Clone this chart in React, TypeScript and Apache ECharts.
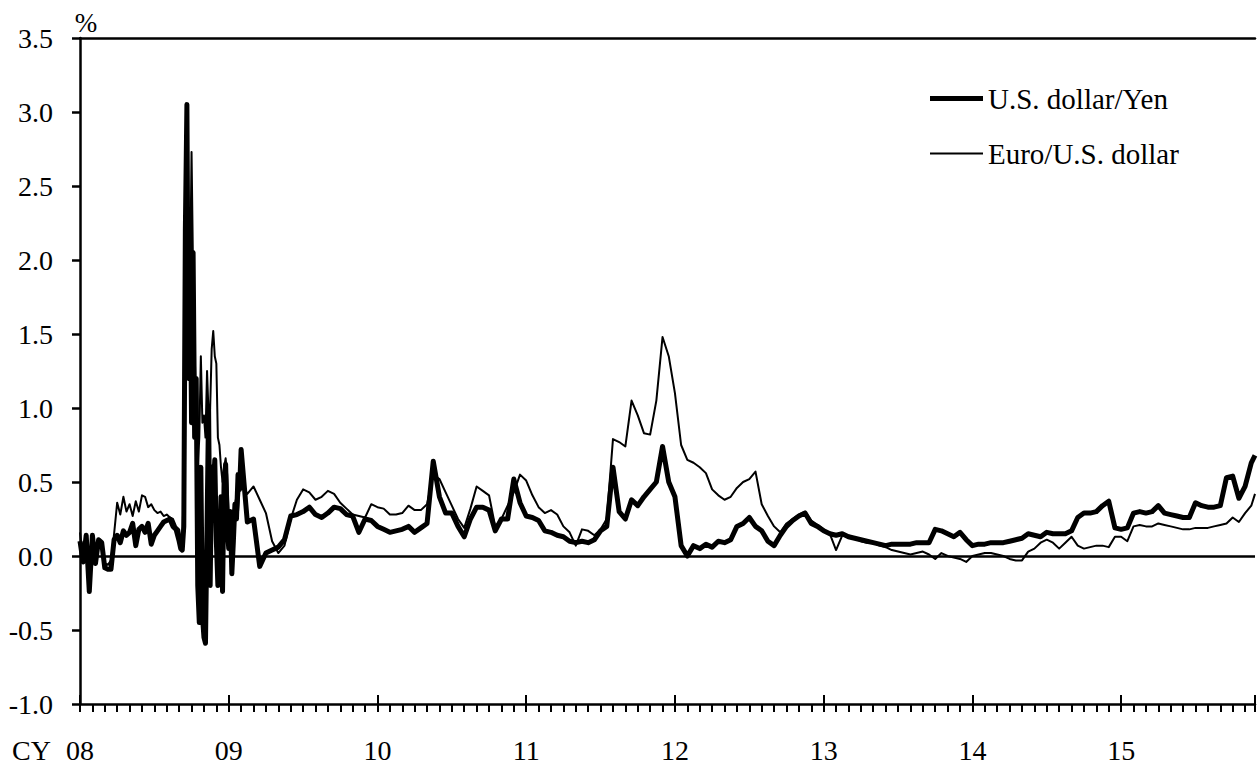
import React, { useEffect, useRef } from 'react';
import * as echarts from 'echarts';

const FONT = '"Liberation Serif", "Times New Roman", Times, serif';

const seriesNames = ['U.S. dollar/Yen', 'Euro/U.S. dollar'];
const yearLabels = ['08', '09', '10', '11', '12', '13', '14', '15'];

// x positions in months since Jan 2008
function range(start: number, end: number, step: number): number[] {
  const out: number[] = [];
  for (let i = 0; start + i * step <= end + 1e-9; i++) out.push(+(start + i * step).toFixed(3));
  return out;
}
const months: number[] = [
  ...range(0, 8, 0.25),
  ...range(8.125, 13, 0.125),
  ...range(13.5, 94.5, 0.5),
  94.8,
];

// U.S. dollar/Yen (thick)
const usdJpy2008a = [0.1, -0.04, 0.14, -0.24, 0.14, -0.05, 0.11, 0.09, -0.08, -0.09, -0.09, 0.11, 0.14, 0.09, 0.17, 0.14, 0.16, 0.22, 0.07, 0.18, 0.2, 0.16, 0.22, 0.08, 0.14, 0.17, 0.2, 0.23, 0.24, 0.25, 0.2, 0.18, 0.1];
const usdJpyCrisis = [0.05, 0.04, 0.2, 2.2, 3.05, 1.2, 2.2, 0.9, 2.05, 0.8, 1.2, -0.2, -0.45, 0.6, -0.4, -0.55, -0.59, 0.2, 1.0, -0.2, 0.6, 0.45, 0.65, 0.1, -0.2, -0.15, 0.4, -0.24, 0.5, 0.62, 0.2, 0.05, 0.3, -0.12, 0.1, 0.35, 0.25, 0.55, 0.45, 0.72];
const usdJpy2009 = [0.23, 0.25, -0.07, 0.02, 0.04, 0.06, 0.11, 0.27, 0.28, 0.3, 0.33, 0.28, 0.26, 0.29, 0.33, 0.32, 0.28, 0.27, 0.16, 0.25, 0.24, 0.2];
const usdJpy2010 = [0.18, 0.16, 0.17, 0.18, 0.2, 0.16, 0.19, 0.22, 0.64, 0.4, 0.29, 0.29, 0.2, 0.13, 0.25, 0.33, 0.33, 0.31, 0.17, 0.25, 0.25, 0.52, 0.36, 0.27];
const usdJpy2011 = [0.26, 0.24, 0.17, 0.16, 0.14, 0.13, 0.1, 0.09, 0.1, 0.09, 0.11, 0.17, 0.2, 0.6, 0.3, 0.25, 0.38, 0.34, 0.4, 0.45, 0.5, 0.74, 0.5, 0.4];
const usdJpy2012 = [0.07, 0.0, 0.07, 0.05, 0.08, 0.06, 0.1, 0.09, 0.11, 0.2, 0.22, 0.26, 0.2, 0.17, 0.1, 0.07, 0.14, 0.2, 0.24, 0.27, 0.29, 0.22, 0.2, 0.17];
const usdJpy2013 = [0.15, 0.14, 0.15, 0.13, 0.12, 0.11, 0.1, 0.09, 0.08, 0.07, 0.08, 0.08, 0.08, 0.08, 0.09, 0.09, 0.09, 0.18, 0.17, 0.15, 0.13, 0.16, 0.11, 0.07];
const usdJpy2014 = [0.08, 0.08, 0.09, 0.09, 0.09, 0.1, 0.11, 0.12, 0.15, 0.14, 0.13, 0.16, 0.15, 0.15, 0.15, 0.17, 0.26, 0.29, 0.29, 0.3, 0.34, 0.37, 0.19, 0.18];
const usdJpy2015 = [0.19, 0.29, 0.3, 0.29, 0.3, 0.34, 0.29, 0.28, 0.27, 0.26, 0.26, 0.36, 0.34, 0.33, 0.33, 0.34, 0.53, 0.54, 0.39, 0.47, 0.63, 0.68];

// Euro/U.S. dollar (thin)
const eurUsd2008a = [0.16, -0.02, 0.1, -0.05, 0.12, 0.05, 0.1, 0.06, -0.05, -0.06, -0.03, 0.15, 0.36, 0.28, 0.4, 0.3, 0.35, 0.27, 0.37, 0.3, 0.41, 0.4, 0.33, 0.35, 0.31, 0.29, 0.3, 0.27, 0.28, 0.26, 0.25, 0.2, 0.18];
const eurUsdCrisis = [0.12, 0.08, 0.5, 1.6, 2.0, 1.2, 1.8, 2.73, 1.9, 1.4, 0.9, 0.6, 0.8, 1.35, 0.9, 0.95, 0.8, 1.25, 0.95, 1.0, 1.4, 1.52, 1.35, 1.3, 0.8, 0.75, 0.6, 0.5, 0.6, 0.66, 0.55, 0.3, 0.05, -0.1, 0.3, 0.35, 0.4, 0.3, 0.45, 0.5];
const eurUsd2009 = [0.42, 0.47, 0.38, 0.29, 0.1, 0.02, 0.07, 0.25, 0.38, 0.45, 0.43, 0.38, 0.4, 0.44, 0.42, 0.36, 0.32, 0.28, 0.27, 0.26, 0.35, 0.33];
const eurUsd2010 = [0.32, 0.28, 0.28, 0.29, 0.34, 0.31, 0.31, 0.35, 0.55, 0.52, 0.43, 0.34, 0.25, 0.19, 0.32, 0.47, 0.44, 0.41, 0.2, 0.25, 0.34, 0.43, 0.55, 0.51];
const eurUsd2011 = [0.41, 0.33, 0.29, 0.31, 0.28, 0.2, 0.16, 0.07, 0.18, 0.17, 0.14, 0.18, 0.25, 0.79, 0.77, 0.74, 1.05, 0.95, 0.83, 0.82, 1.05, 1.48, 1.35, 1.1];
const eurUsd2012 = [0.75, 0.65, 0.63, 0.6, 0.56, 0.45, 0.41, 0.38, 0.4, 0.46, 0.5, 0.52, 0.57, 0.35, 0.27, 0.2, 0.16, 0.22, 0.25, 0.28, 0.3, 0.24, 0.21, 0.18];
const eurUsd2013 = [0.15, 0.04, 0.14, 0.13, 0.12, 0.1, 0.09, 0.09, 0.07, 0.06, 0.04, 0.03, 0.02, 0.01, 0.02, 0.03, 0.01, -0.02, 0.02, 0.0, -0.01, -0.02, -0.04, 0.0];
const eurUsd2014 = [0.01, 0.02, 0.02, 0.01, 0.0, -0.02, -0.03, -0.03, 0.03, 0.05, 0.09, 0.11, 0.09, 0.05, 0.09, 0.13, 0.07, 0.05, 0.06, 0.07, 0.07, 0.06, 0.13, 0.13];
const eurUsd2015 = [0.1, 0.2, 0.21, 0.2, 0.2, 0.22, 0.21, 0.2, 0.19, 0.18, 0.18, 0.19, 0.19, 0.19, 0.2, 0.21, 0.22, 0.26, 0.23, 0.29, 0.34, 0.42];

const usdJpy = [...usdJpy2008a, ...usdJpyCrisis, ...usdJpy2009, ...usdJpy2010, ...usdJpy2011, ...usdJpy2012, ...usdJpy2013, ...usdJpy2014, ...usdJpy2015];
const eurUsd = [...eurUsd2008a, ...eurUsdCrisis, ...eurUsd2009, ...eurUsd2010, ...eurUsd2011, ...eurUsd2012, ...eurUsd2013, ...eurUsd2014, ...eurUsd2015];

const pair = (vals: number[]) => {
  const n = Math.min(vals.length, months.length);
  const out: [number, number][] = [];
  for (let i = 0; i < n; i++) out.push([months[i], vals[i]]);
  return out;
};

const X_MAX = 94.8;

// legend icons: a horizontal bar inside a 53x14 box (corner points keep the box size)
const thickIcon = 'path://M0,0L0,0M53,14L53,14M0,4.6L53,4.6L53,9.4L0,9.4Z';
const thinIcon = 'path://M0,0L0,0M53,14L53,14M0,6.1L53,6.1L53,7.9L0,7.9Z';

export default function App() {
  const ref = useRef<HTMLDivElement>(null);
  useEffect(() => {
    if (!ref.current) return;
    const chart = echarts.init(ref.current, null, { renderer: 'svg' });
    const txt = { fontFamily: FONT, fontSize: 28, color: '#000' };
    chart.setOption({
      animation: false,
      backgroundColor: '#fff',
      textStyle: { fontFamily: FONT, color: '#000' },
      grid: { left: 80, right: 0, top: 38, bottom: 59, containLabel: false },
      legend: {
        data: [
          { name: seriesNames[0], icon: thickIcon },
          { name: seriesNames[1], icon: thinIcon },
        ],
        orient: 'vertical',
        left: 925,
        top: 79,
        itemWidth: 53,
        itemHeight: 14,
        itemGap: 26,
        itemStyle: { color: '#000', borderWidth: 0 },
        textStyle: { ...txt, fontSize: 29 },
      },
      xAxis: [
        {
          type: 'value',
          min: 0,
          max: X_MAX,
          interval: 12,
          position: 'bottom',
          name: 'CY',
          nameLocation: 'start',
          nameGap: 29,
          nameTextStyle: { ...txt, align: 'right', verticalAlign: 'top', padding: [32, 0, 0, 0] },
          axisLine: { show: true, onZero: false, lineStyle: { color: '#000', width: 2.5 } },
          axisTick: { show: true, inside: true, length: 9, lineStyle: { color: '#000', width: 2 } },
          axisLabel: {
            ...txt,
            margin: 32,
            formatter: (v: number) => {
              if (Math.abs(v % 12) > 1e-6) return '';
              return yearLabels[Math.round(v / 12)] ?? '';
            },
          },
          splitLine: { show: false },
        },
        {
          type: 'value',
          min: 0,
          max: X_MAX,
          interval: 1,
          position: 'bottom',
          axisLine: { show: false, onZero: false },
          axisTick: { show: true, inside: false, length: 8, lineStyle: { color: '#000', width: 2 } },
          axisLabel: { show: false },
          splitLine: { show: false },
        },
        {
          type: 'value',
          min: 0,
          max: X_MAX,
          position: 'top',
          axisLine: { show: true, onZero: false, lineStyle: { color: '#000', width: 2.5 } },
          axisTick: { show: false },
          axisLabel: { show: false },
          splitLine: { show: false },
        },
      ],
      yAxis: {
        type: 'value',
        min: -1,
        max: 3.5,
        interval: 0.5,
        name: '%',
        nameLocation: 'end',
        nameGap: 2,
        nameTextStyle: { ...txt, fontSize: 27, padding: [0, 0, 0, 12] },
        axisLine: { show: true, lineStyle: { color: '#000', width: 2.5 } },
        axisTick: { show: true, inside: false, length: 8, lineStyle: { color: '#000', width: 2.5 } },
        axisLabel: { ...txt, margin: 27, formatter: (v: number) => v.toFixed(1) },
        splitLine: { show: false },
      },
      series: [
        {
          name: seriesNames[0],
          type: 'line',
          data: pair(usdJpy),
          symbol: 'none',
          lineStyle: { color: '#000', width: 5, join: 'round' },
          itemStyle: { color: '#000' },
          z: 2,
          markLine: {
            silent: true,
            symbol: 'none',
            label: { show: false },
            lineStyle: { color: '#000', width: 2.5, type: 'solid' },
            data: [{ yAxis: 0 }],
          },
        },
        {
          name: seriesNames[1],
          type: 'line',
          data: pair(eurUsd),
          symbol: 'none',
          lineStyle: { color: '#000', width: 2, join: 'round' },
          itemStyle: { color: '#000' },
          z: 3,
        },
      ],
    });
    return () => chart.dispose();
  }, []);
  return (
    <div
      ref={ref}
      style={{ position: 'absolute', left: 0, top: 0, width: 1258, height: 764, background: '#fff' }}
    />
  );
}
